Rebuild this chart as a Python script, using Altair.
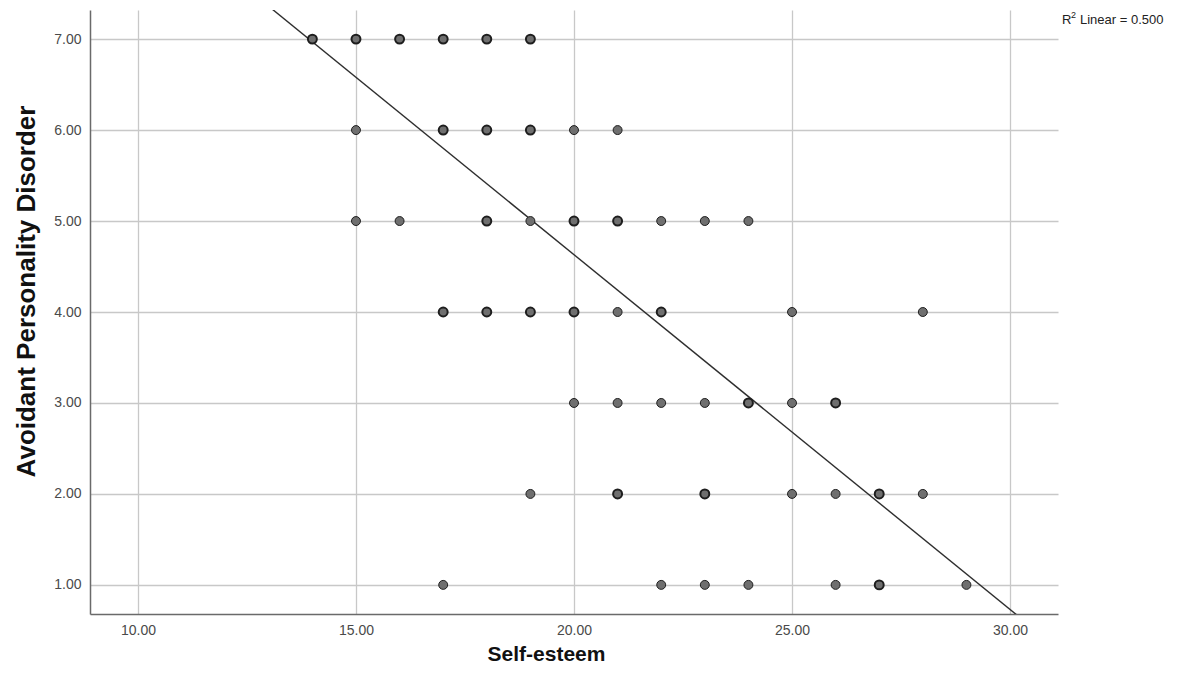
import altair as alt
import pandas as pd

# Observed (unique) points by Avoidant Personality Disorder level
row7 = [14, 15, 16, 17, 18, 19]
row6 = [15, 17, 18, 19, 20, 21]
row5 = [15, 16, 18, 19, 20, 21, 22, 23, 24]
row4 = [17, 18, 19, 20, 21, 22, 25, 28]
row3 = [20, 21, 22, 23, 24, 25, 26]
row2 = [19, 21, 23, 25, 26, 27, 28]
row1 = [17, 22, 23, 24, 26, 27, 29]
# points drawn with a heavier outline (several overlapping cases)
multi7 = [14, 15, 16, 17, 18, 19]
multi6 = [17, 18, 19]
multi5 = [18, 20, 21]
multi4 = [17, 18, 19, 20, 22]
multi3 = [24, 26]
multi2 = [21, 23, 27]
multi1 = [27]

# Linear fit line
fit_intercept = 12.43
fit_slope = -0.39
fit_x = [13.0, 30.2]
r2_parts = ["R", "2", "Linear = 0.500"]

x_ticks = [10, 15, 20, 25, 30]
y_ticks = [1, 2, 3, 4, 5, 6, 7]

rows = {7: (row7, multi7), 6: (row6, multi6), 5: (row5, multi5), 4: (row4, multi4),
        3: (row3, multi3), 2: (row2, multi2), 1: (row1, multi1)}
recs = []
for yv, (xs, ms) in rows.items():
    for xv in xs:
        recs.append({"x": xv, "y": yv, "multi": "yes" if xv in ms else "no"})
pts = pd.DataFrame(recs)
fit = pd.DataFrame({"x": fit_x, "y": [fit_intercept + fit_slope * v for v in fit_x]})

FONT = "Liberation Sans"
xscale = alt.Scale(domain=[8.9, 31.1], nice=False, zero=False)
yscale = alt.Scale(domain=[0.68, 7.32], nice=False, zero=False)

xaxis = alt.Axis(values=x_ticks, format=".2f", title="Self-esteem", grid=True,
                 gridColor="#c8c8c8", gridWidth=1.3, domainColor="#6a6a6a", domainWidth=1.5,
                 ticks=False, labelPadding=9, labelFont=FONT, labelFontSize=14,
                 labelColor="#4a4a4a", titleFont=FONT, titleFontSize=21, titleFontWeight="bold",
                 titleColor="#111111", titleX=456, titleY=40, titleBaseline="middle",
                 titleAnchor="start", titleAlign="center")
yaxis = alt.Axis(values=y_ticks, format=".2f", title="Avoidant Personality Disorder", grid=True,
                 gridColor="#c8c8c8", gridWidth=1.3, domainColor="#6a6a6a", domainWidth=1.5,
                 ticks=False, labelPadding=9, labelFont=FONT, labelFontSize=14,
                 labelColor="#4a4a4a", titleFont=FONT, titleFontSize=26, titleFontWeight="bold",
                 titleColor="#111111", titleX=-64, titleY=281, titleAngle=-90,
                 titleBaseline="middle", titleAlign="center", titleAnchor="start")

points = alt.Chart(pts).mark_point(filled=True, shape="circle", size=80, opacity=1,
                                   fill="#6f6f6f", stroke="#1e1e1e").encode(
    x=alt.X("x:Q", scale=xscale, axis=xaxis),
    y=alt.Y("y:Q", scale=yscale, axis=yaxis),
    strokeWidth=alt.StrokeWidth("multi:N", scale=alt.Scale(domain=["no", "yes"], range=[1.0, 2.0]),
                                legend=None),
)

line = alt.Chart(fit).mark_line(color="#2e2e2e", strokeWidth=1.4, clip=True).encode(
    x=alt.X("x:Q", scale=xscale),
    y=alt.Y("y:Q", scale=yscale),
)

lab_r = alt.Chart(pd.DataFrame({"t": [r2_parts[0]]})).mark_text(
    align="left", baseline="middle", font=FONT, fontSize=13, color="#222222"
).encode(text="t:N", x=alt.value(972), y=alt.value(10))
lab_2 = alt.Chart(pd.DataFrame({"t": [r2_parts[1]]})).mark_text(
    align="left", baseline="middle", font=FONT, fontSize=9, color="#222222"
).encode(text="t:N", x=alt.value(981), y=alt.value(5))
lab_rest = alt.Chart(pd.DataFrame({"t": [r2_parts[2]]})).mark_text(
    align="left", baseline="middle", font=FONT, fontSize=13, color="#222222"
).encode(text="t:N", x=alt.value(990), y=alt.value(10))

chart = alt.layer(line, points, lab_r, lab_2, lab_rest).properties(
    width=968, height=604,
    autosize=alt.AutoSizeParams(type="none"),
    padding={"left": 82, "top": 2, "right": 115, "bottom": 58},
).configure_view(stroke=None)

chart.save("out.html", embed_options={"renderer": "svg", "actions": False})
